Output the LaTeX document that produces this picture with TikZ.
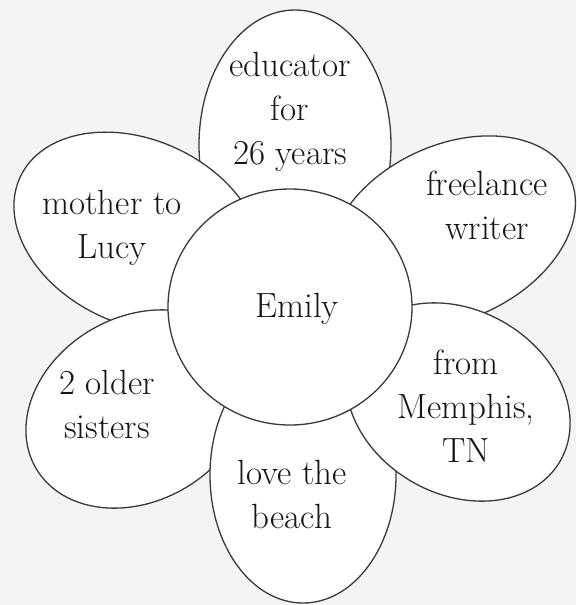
\documentclass[tikz,border=0pt]{standalone}
\usetikzlibrary{shapes.geometric}
\definecolor{bgc}{HTML}{F4F4F4}
\definecolor{edgec}{HTML}{3A3A3A}
\definecolor{txtc}{HTML}{161616}
\tikzset{
  petal/.style={draw=edgec, line width=1.3pt, fill=white},
  lbl/.style={font=\fontsize{35}{44}\selectfont, text=txtc, align=center, inner sep=0pt}
}
\begin{document}
\begin{tikzpicture}[x=1pt,y=-1pt]
  \fill[bgc] (0,0) rectangle (576,605);
  \useasboundingbox (0,0) rectangle (576,605);
  % petals (drawn in overlap order)
  \draw[petal] (295,145) ellipse (96pt and 135pt);                                 % top
  \draw[petal, rotate around={-25:(138,232)}] (138,232) ellipse (130pt and 92pt);  % mother
  \draw[petal, rotate around={30:(138,409)}] (138,409) ellipse (118pt and 92pt);   % sisters
  \draw[petal] (303,475) ellipse (93pt and 128pt);                                 % bottom
  \draw[petal, rotate around={25:(452,232)}] (452,232) ellipse (130pt and 87pt);   % freelance
  \draw[petal, rotate around={-30:(458,402)}] (458,402) ellipse (118pt and 92pt);  % Memphis
  % centre
  \draw[petal] (290,307) ellipse (122pt and 118pt);
  % labels
  \node[lbl] (emily) at (297,309) {Emily};
  \node[lbl] (edu) at (290,112) {educator\\for\\26 years};
  \node[lbl] (mother) at (112,228) {mother to\\Lucy};
  \node[lbl] (free) at (487,205) {freelance\\writer};
  \node[lbl] (sis) at (107,404) {2 older\\sisters};
  \node[lbl] (memphis) at (466,406) {from\\Memphis,\\TN};
  \node[lbl] (beach) at (292,494) {love the\\beach};
\end{tikzpicture}
\end{document}
